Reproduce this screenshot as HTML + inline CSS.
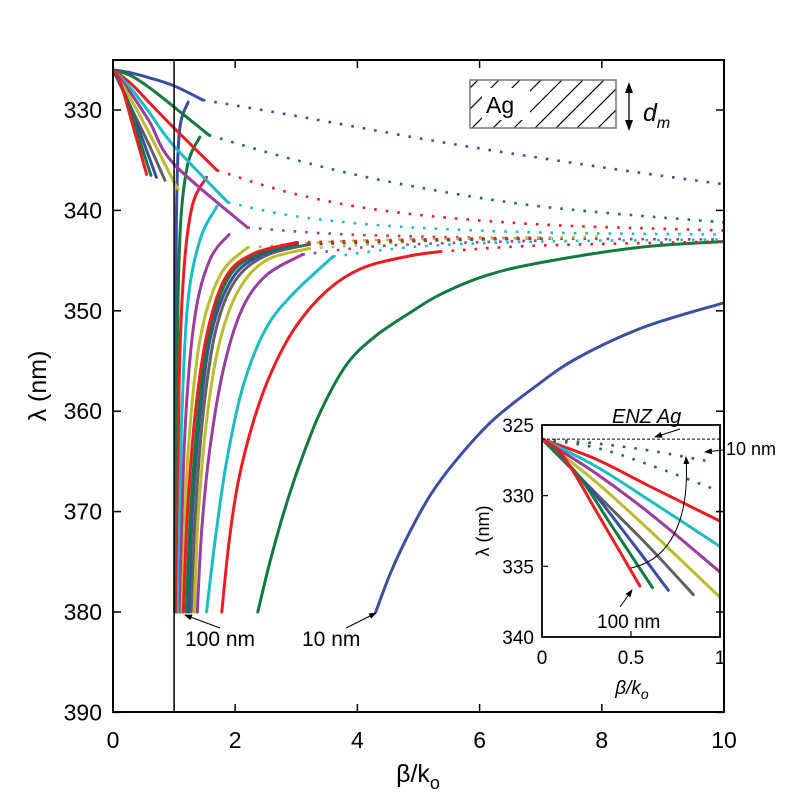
<!DOCTYPE html>
<html><head><meta charset="utf-8">
<style>
html,body{margin:0;padding:0;background:#fff;}
svg{display:block;font-family:"Liberation Sans",Arial,sans-serif;}
</style></head>
<body>
<svg id="chart" width="800" height="800" viewBox="0 0 800 800">
<defs>
<marker id="ah" markerWidth="8" markerHeight="8" refX="7" refY="4" orient="auto" markerUnits="userSpaceOnUse"><path d="M0,1 L8,4 L0,7 Z" fill="#000"/></marker>
<clipPath id="agclip"><rect x="470" y="80" width="146" height="48"/></clipPath>
<clipPath id="mainclip"><rect x="113" y="60" width="611" height="652"/></clipPath>
<clipPath id="insclip"><rect x="542" y="425" width="178" height="212"/></clipPath>
</defs>
<g id="main-series" clip-path="url(#mainclip)"></g>
<rect x="542" y="425" width="178" height="212" fill="#fff"/>
<g id="inset-series" clip-path="url(#insclip)"></g>
<g id="axes"></g>
</svg>
<script>
const NS="http://www.w3.org/2000/svg";
const svg=document.getElementById('chart');
const mainG=document.getElementById('main-series');
const insG=document.getElementById('inset-series');
const axG=document.getElementById('axes');

// ---- data ----
const thicknesses=[10,20,30,40,50,60,70,80,90,100];
const colors=["#3b4fa0","#127a3c","#ec1c24","#1cbcc4","#9c3c9c","#bcbc2c","#606060","#3b4fa0","#127a3c","#ec1c24"];
const upperSolid=[
 [[0,326],[0.3,326.3],[0.6,326.8],[1,327.6],[1.47,329]],
 [[0,326],[0.3,326.6],[0.6,327.8],[1,329.7],[1.57,332.5]],
 [[0,326],[0.3,327.4],[0.6,329.3],[1,331.8],[1.7,336]],
 [[0,326],[0.3,327.9],[0.6,330.3],[1,333.6],[1.88,339.2]],
 [[0,326],[0.3,328.4],[0.6,331.2],[1,335.4],[2.2,341.7]],
 [[0,326],[0.3,329],[0.6,332.4],[1,337.2],[1.07,337.9]],
 [[0,326],[0.3,329.8],[0.6,333.6],[0.85,337]],
 [[0,326],[0.25,329.2],[0.5,333.2],[0.71,336.7]],
 [[0,326],[0.2,328.5],[0.4,332.3],[0.62,336.5]],
 [[0,326],[0.1,326.9],[0.2,328.8],[0.3,331],[0.43,333.8],[0.55,336.4]]
];
const upperDotted=[
 [[1.47,329],[3,330.6],[5.47,333.3],[8,335.7],[10,337.4]],
 [[1.57,332.5],[3,335],[4.65,337.3],[7,339.6],[10,341.2]],
 [[1.7,336],[3,338.4],[4.65,340.2],[7,341.4],[10,342]],
 [[1.88,339.2],[3,340.6],[4.65,341.6],[7,342.2],[10,342.4]],
 [[2.2,341.7],[3.5,342.3],[5,342.6],[7,342.8],[10,342.9]],
 [[2.2,343.7],[4,343],[6,342.8],[8,342.6]],
 [],[],[],[]
];
const nearLine=[
 [[1.01,380],[1.02,355],[1.04,340],[1.09,332],[1.23,329.2]],
 [[1.03,380],[1.05,355],[1.1,342],[1.22,335.5],[1.42,332.7]],
 [[1.05,380],[1.08,358],[1.16,346],[1.3,339.5],[1.53,336.7]],
 [[1.07,380],[1.12,362],[1.22,349.5],[1.42,343],[1.7,339.6]],
 [[1.1,380],[1.17,363],[1.33,351],[1.58,345],[1.9,342.4]],
 [[1.13,380],[1.22,365],[1.42,353],[1.75,346.5],[2.2,343.7]],
 [],[],[],[]
];
const lowerSolid=[
 [[4.3,380],[4.55,376],[4.86,372],[5.2,368.3],[5.6,365],[6.2,361],[6.9,357.6],[7.6,354.7],[8.7,351.6],[10,349.2]],
 [[2.37,380],[2.57,375],[2.8,370],[3.06,365.2],[3.4,360],[3.83,355.3],[4.3,352.5],[4.86,350.2],[5.35,348.4],[6.1,346.5],[7,345.2],[8.6,343.7],[10,343.1]],
 [[1.78,380],[1.9,373],[2.05,367],[2.3,361],[2.6,356],[3.0,351.5],[3.5,348],[4.06,345.8],[4.8,344.6],[5.35,344.1]],
 [[1.53,380],[1.68,372.5],[1.86,365],[2.13,357.5],[2.5,351.8],[2.95,348.3],[3.6,344.6]],
 [[1.38,380],[1.45,372],[1.58,364],[1.8,356],[2.1,350],[2.5,346.5],[3.1,344.4]],
 [[1.33,380],[1.4,370],[1.55,360],[1.75,353],[2.05,348],[2.5,345],[3.2,343.8]],
 [[1.28,380],[1.35,370],[1.48,360],[1.68,352],[2,347],[2.5,344.5],[3.2,343.4]],
 [[1.24,380],[1.3,370],[1.43,360],[1.62,352],[1.95,346.8],[2.4,344.5],[3,343.4]],
 [[1.2,380],[1.27,370],[1.4,360],[1.58,352],[1.9,346.6],[2.35,344.4],[3,343.3]],
 [[1.15,380],[1.22,370],[1.35,360],[1.55,352],[1.85,346.6],[2.3,344.3],[3,343.2]]
];
const lowerDotted=[
 [],[],
 [[5.35,344.1],[7,343.5],[10,343.1]],
 [[3.6,344.6],[5,343.6],[7,343.1],[10,342.9]],
 [[3.1,344.4],[4.5,343.5],[7,343]],
 [[3.2,343.8],[5,343.1],[7,342.8]],
 [[3.2,343.4],[5,343],[7.2,342.8]],
 [[3,343.4],[5,343],[7,342.8]],
 [[3,343.3],[5,343],[7,342.8]],
 [[3,343.2],[5,342.9],[7,342.7]]
];
const insetData=[
 [[0,326],[0.3,326.3],[0.6,326.8],[0.95,327.6]],
 [[0,326],[0.3,326.6],[0.6,327.8],[1,329.7]],
 [[0,326],[0.3,327.4],[0.6,329.3],[1,331.8]],
 [[0,326],[0.3,327.9],[0.6,330.3],[1,333.6]],
 [[0,326],[0.3,328.4],[0.6,331.2],[1,335.4]],
 [[0,326],[0.3,329],[0.6,332.4],[1,337.2]],
 [[0,326],[0.3,329.8],[0.6,333.6],[0.85,337]],
 [[0,326],[0.25,329.2],[0.5,333.2],[0.71,336.7]],
 [[0,326],[0.2,328.5],[0.4,332.3],[0.62,336.5]],
 [[0,326],[0.1,326.9],[0.2,328.8],[0.3,331],[0.43,333.8],[0.55,336.4]]
];
const xTicks=[0,2,4,6,8,10];
const yTicks=[330,340,350,360,370,380,390];
const insXTicks=[0,0.5,1];
const insXLabels=["0","0.5","1"];
const insYTicks=[325,330,335,340];

// ---- scales ----
const X=v=>113+61.1*v;
const Y=l=>110+(l-330)*10.04;
const XI=v=>542+178*v;
const YI=l=>425+(l-325)*14.13;

function pathFrom(pts,fx,fy){
  const p=pts.map(q=>[fx(q[0]),fy(q[1])]);
  if(p.length<2)return "";
  let d="M"+p[0][0].toFixed(1)+","+p[0][1].toFixed(1);
  for(let i=0;i<p.length-1;i++){
    const p0=p[i-1]||p[i],p1=p[i],p2=p[i+1],p3=p[i+2]||p2;
    const c1=[p1[0]+(p2[0]-p0[0])/6,p1[1]+(p2[1]-p0[1])/6];
    const c2=[p2[0]-(p3[0]-p1[0])/6,p2[1]-(p3[1]-p1[1])/6];
    d+=" C"+c1.map(v=>v.toFixed(1)).join(",")+" "+c2.map(v=>v.toFixed(1)).join(",")+" "+p2[0].toFixed(1)+","+p2[1].toFixed(1);
  }
  return d;
}
function addPath(g,pts,fx,fy,color,dotted,name){
  if(!pts.length)return;
  const e=document.createElementNS(NS,'path');
  e.setAttribute('d',pathFrom(pts,fx,fy));
  e.setAttribute('fill','none');
  e.setAttribute('stroke',color);
  e.setAttribute('stroke-width',dotted?2.6:3);
  e.setAttribute('stroke-linecap',dotted?'butt':'round');
  if(dotted)e.setAttribute('stroke-dasharray','2.6 9');
  
  
  g.appendChild(e);
}
thicknesses.forEach((t,i)=>{
  const c=colors[i];
  addPath(mainG,upperDotted[i],X,Y,c,true,'upper-dotted-'+t+'nm');
  addPath(mainG,lowerDotted[i],X,Y,c,true,'lower-dotted-'+t+'nm');
  addPath(mainG,upperSolid[i],X,Y,c,false,'upper-branch-'+t+'nm');
  addPath(mainG,nearLine[i],X,Y,c,false,'lightline-branch-'+t+'nm');
  addPath(mainG,lowerSolid[i],X,Y,c,false,'lower-branch-'+t+'nm');
  addPath(insG,insetData[i],XI,YI,c,i<2,'inset-curve-'+t+'nm');
});

function el(tag,attrs,parent,text){
  const e=document.createElementNS(NS,tag);
  for(const k in attrs)e.setAttribute(k,attrs[k]);
  if(text!==undefined)e.textContent=text;
  (parent||axG).appendChild(e);
  return e;
}
el('rect',{x:113,y:60,width:611,height:652,fill:'none',stroke:'#000','stroke-width':2,});
el('line',{x1:X(1),y1:60,x2:X(1),y2:712,stroke:'#000','stroke-width':1.5,});
xTicks.forEach(v=>{
  const x=X(v);
  el('line',{x1:x,y1:712,x2:x,y2:704,stroke:'#000','stroke-width':1.5,});
  el('line',{x1:x,y1:60,x2:x,y2:68,stroke:'#000','stroke-width':1.5,});
  el('text',{x:x,y:748,'font-size':23,'text-anchor':'middle',},axG,String(v));
});
yTicks.forEach(v=>{
  const y=Y(v);
  el('line',{x1:113,y1:y,x2:121,y2:y,stroke:'#000','stroke-width':1.5,});
  el('line',{x1:724,y1:y,x2:716,y2:y,stroke:'#000','stroke-width':1.5,});
  el('text',{x:102,y:y+8,'font-size':23,'text-anchor':'end',},axG,String(v));
});
const xt=el('text',{x:418,y:782,'font-size':25,'text-anchor':'middle',},axG,'β/k');
el('tspan',{'font-size':18,dy:7},xt,'o');
el('text',{x:46,y:386,'font-size':25,'text-anchor':'middle',transform:'rotate(-90 46 386)',},axG,'λ (nm)');

const ag=el('g',{});
const hatch=el('g',{'clip-path':'url(#agclip)',stroke:'#000','stroke-width':1.2},ag);
for(let k=-40;k<200;k+=21){el('line',{x1:470+k,y1:128,x2:470+k+48,y2:80},hatch);}
el('rect',{x:482,y:88,width:48,height:32,fill:'#fff'},ag);
el('rect',{x:470,y:80,width:146,height:48,fill:'none',stroke:'#777','stroke-width':1.5},ag);
el('text',{x:486,y:113,'font-size':23},ag,'Ag');
el('line',{x1:629,y1:92,x2:629,y2:121,stroke:'#000','stroke-width':1.3},ag);
el('path',{d:'M629,82 L625,93 L633,93 Z M629,131 L625,120 L633,120 Z',fill:'#000'},ag);
const dm=el('text',{x:643,y:121,'font-size':25,'font-style':'italic'},ag,'d');
el('tspan',{'font-size':16,dy:7},dm,'m');

el('text',{x:185,y:646,'font-size':21,},axG,'100 nm');
el('line',{x1:220,y1:628,x2:185,y2:615,stroke:'#000','stroke-width':1,'marker-end':'url(#ah)',});
el('text',{x:302,y:646,'font-size':21,},axG,'10 nm');
el('line',{x1:346,y1:628,x2:376,y2:613,stroke:'#000','stroke-width':1,'marker-end':'url(#ah)',});

el('line',{x1:542,y1:YI(326),x2:720,y2:YI(326),stroke:'#000','stroke-width':1,'stroke-dasharray':'3 2',});
el('rect',{x:542,y:425,width:178,height:212,fill:'none',stroke:'#000','stroke-width':1.8,});
insXTicks.forEach((v,i)=>{
  el('line',{x1:XI(v),y1:637,x2:XI(v),y2:631,stroke:'#000','stroke-width':1.2,});
  el('text',{x:XI(v),y:664,'font-size':19,'text-anchor':'middle',},axG,insXLabels[i]);
});
insYTicks.forEach(v=>{
  el('line',{x1:542,y1:YI(v),x2:548,y2:YI(v),stroke:'#000','stroke-width':1.2,});
  el('text',{x:534,y:YI(v)+7,'font-size':19,'text-anchor':'end',},axG,String(v));
});
const ixt=el('text',{x:632,y:694,'font-size':19,'font-style':'italic','text-anchor':'middle',},axG,'β/k');
el('tspan',{'font-size':14,dy:5},ixt,'o');
el('text',{x:489,y:531,'font-size':18,'text-anchor':'middle',transform:'rotate(-90 489 531)',},axG,'λ (nm)');
el('text',{x:612,y:423,'font-size':20,'font-style':'italic',},axG,'ENZ Ag');
el('line',{x1:680,y1:429,x2:655,y2:437,stroke:'#000','stroke-width':1,'marker-end':'url(#ah)',});
el('text',{x:726,y:455,'font-size':18,},axG,'10 nm');
el('line',{x1:723,y1:450,x2:705,y2:452,stroke:'#000','stroke-width':1,'marker-end':'url(#ah)',});
el('path',{d:'M631,568 C670,560 690,520 686,457',fill:'none',stroke:'#000','stroke-width':1,'marker-end':'url(#ah)',});
el('text',{x:597,y:628,'font-size':19,},axG,'100 nm');
el('line',{x1:620,y1:607,x2:632,y2:590,stroke:'#000','stroke-width':1,'marker-end':'url(#ah)',});
</script>
</body></html>
